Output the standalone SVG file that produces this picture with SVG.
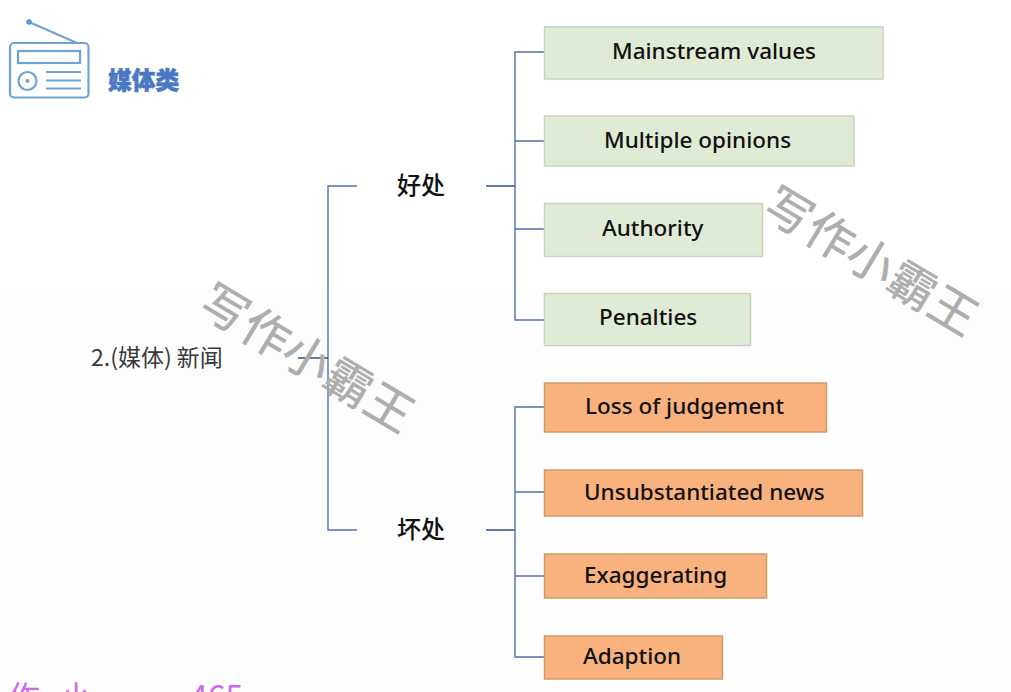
<svg xmlns="http://www.w3.org/2000/svg" width="1011" height="692" viewBox="0 0 1011 692">
<style>
text{font-family:"Noto Sans","Noto Sans CJK SC",sans-serif}
.c{fill:none;stroke:#4f71ab;stroke-width:1.4}
.d{fill:none;stroke:#2f4d85;stroke-width:1.6}
.g rect{fill:#e0ebd6;stroke:#ccd0c0;stroke-width:1.5}
.o rect{fill:#f9b27d;stroke:#cf9a6c;stroke-width:1.5}
.n text{font-size:22.5px;fill:#111;font-weight:500}
.k{font-size:24px;fill:#111;font-family:"Noto Sans CJK SC",sans-serif;font-weight:500}
.w{font-size:47px;fill:#adadad;stroke:#adadad;stroke-width:.5;font-family:"Noto Sans CJK SC",sans-serif;letter-spacing:1px}
.i{fill:none;stroke:#6fa3d2;stroke-width:2.200}
</style>
<rect width="1011" height="692" fill="#fff"/>
<rect y="290" width="1011" height="402" fill="#fdfdfd"/>
<g id="icon-radio">
<rect class="i" x="10" y="43" width="78.500" height="54.500" rx="4"/>
<rect class="i" x="18" y="51" width="62" height="12"/>
<circle class="i" cx="27.500" cy="81" r="9"/>
<circle cx="27.500" cy="81" r="2" fill="#6fa3d2"/>
<path class="i" d="M46 72H81M46 80.500H81M46 88.500H81M29 22L77 43"/>
<circle cx="29" cy="22" r="2.800" fill="#5f97cc"/>
</g>
<text id="category" x="108" y="89" font-size="23.700" font-weight="900" fill="#4a78c4" style="font-family:'Noto Sans CJK SC',sans-serif" stroke="#4a78c4" stroke-width=".6">媒体类</text>
<g id="connectors">
<path class="c" d="M357 186H328V530H357"/>
<path class="d" d="M298 358H328M486 186H515M486 530H515"/>
<path class="c" d="M544 52H515V320H544M515 141H544M515 229H544"/>
<path class="c" d="M544 407H515V657H544M515 492H544M515 576H544"/>
</g>
<g id="root"><text x="91" y="366" font-size="23" fill="#3a3a3a" style="font-family:'Noto Sans CJK SC',sans-serif">2.(媒体) 新闻</text></g>
<g id="good"><text class="k" x="397" y="193.500">好处</text></g>
<g id="bad"><text class="k" x="397" y="537.500">坏处</text></g>
<g id="n1" class="n g"><rect x="544.500" y="27" width="338.500" height="52"/><text x="612" y="59">Mainstream values</text></g>
<g id="n2" class="n g"><rect x="544.500" y="116" width="309.500" height="50"/><text x="604" y="148">Multiple opinions</text></g>
<g id="n3" class="n g"><rect x="544.500" y="203.500" width="218" height="53"/><text x="602" y="236">Authority</text></g>
<g id="n4" class="n g"><rect x="544.500" y="293.500" width="206" height="52"/><text x="599" y="325">Penalties</text></g>
<g id="n5" class="n o"><rect x="544.500" y="383" width="282" height="49"/><text x="585" y="414">Loss of judgement</text></g>
<g id="n6" class="n o"><rect x="544.500" y="470" width="318" height="46"/><text x="584" y="500">Unsubstantiated news</text></g>
<g id="n7" class="n o"><rect x="544.500" y="554" width="222" height="44"/><text x="584" y="583">Exaggerating</text></g>
<g id="n8" class="n o"><rect x="544.500" y="636" width="178" height="43"/><text x="583" y="664">Adaption</text></g>
<text class="w" transform="translate(196 311) rotate(31)">写作小霸王</text>
<text class="w" transform="translate(760 214) rotate(31)">写作小霸王</text>
<text y="709" font-size="32" fill="#cc6ae8" style="font-family:'Noto Sans CJK SC',sans-serif"><tspan x="8">作</tspan><tspan x="60">小</tspan><tspan x="190">465</tspan></text>
</svg>
